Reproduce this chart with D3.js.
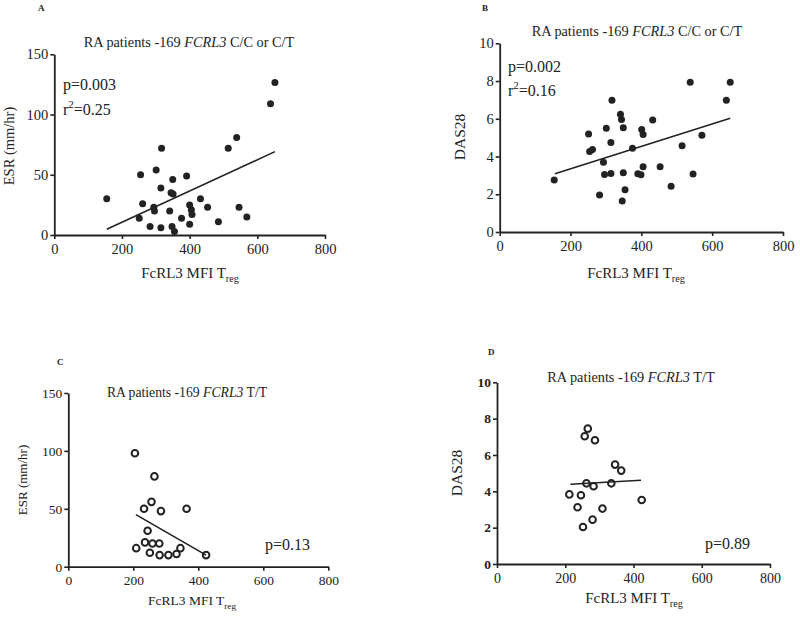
<!DOCTYPE html>
<html><head><meta charset="utf-8">
<script src="https://cdn.jsdelivr.net/npm/d3@7"></script>
<style>body{margin:0;background:#fff}svg{display:block}text{font-family:"Liberation Serif","Times New Roman",serif;fill:#222}</style>
</head><body>
<script>
// Panel A: ESR vs FcRL3 MFI Treg (C/C or C/T)
const aX = [652,639,539,514,317,255,301,350,391,315,345,351,155,261,294,296,341,400,432,405,407,453,546,569,485,251,376,400,283,315,348,355];
const aY = [126.5,109,81,72,72,50,54,46,49,39,35,34,30,26,23,20,20,25,30,21,17,23,23,15,11,14,14,9,7,6,7,3];
const aFit = [[155,4.7],[652,69.2]];
// Panel B: DAS28 vs FcRL3 MFI Treg (C/C or C/T)
const bX = [651,538,640,317,341,344,432,301,349,401,405,251,571,314,515,375,262,254,293,405,453,296,314,349,390,399,546,154,354,484,282,346];
const bY = [7.94,7.94,6.98,6.98,6.24,5.96,5.93,5.5,5.52,5.43,5.17,5.19,5.13,4.74,4.57,4.44,4.37,4.27,3.69,3.46,3.46,3.05,3.1,3.14,3.09,3.03,3.07,2.75,2.24,2.42,1.96,1.64];
const bFit = [[156,3.09],[651,6.03]];
// Panel C: ESR vs FcRL3 MFI Treg (T/T)
const cX = [205,265,256,233,285,364,244,236,259,280,209,251,281,308,333,345,424];
const cY = [98,78,56,50,48,50,31,21,20,20,16,12,10,10,11,16,10];
const cFit = [[208,45],[424,10]];
// Panel D: DAS28 vs FcRL3 MFI Treg (T/T)
const dX = [266,257,287,346,364,262,335,283,212,246,424,236,309,280,252];
const dY = [7.45,7.03,6.81,5.47,5.14,4.44,4.44,4.28,3.83,3.78,3.52,3.12,3.05,2.44,2.04];
const dFit = [[215,4.39],[422,4.61]];

const xTicks = [0,200,400,600,800];
const esrTicks = [0,50,100,150];
const dasTicks = [0,2,4,6,8,10];

const svg = d3.select("body").append("svg").attr("width",800).attr("height",618);

function panel(o){
  const g = svg.append("g");
  const x = d3.scaleLinear().domain([0,800]).range([o.x0,o.x1]);
  const y = d3.scaleLinear().domain(o.yDom).range([o.y0,o.y1]);
  const xa = g.append("g").attr("transform",`translate(0,${o.y0})`)
    .call(d3.axisBottom(x).tickValues(xTicks).tickSize(4).tickPadding(5).tickSizeOuter(0));
  const ya = g.append("g").attr("transform",`translate(${o.x0},0)`)
    .call(d3.axisLeft(y).tickValues(o.yTicks).tickSize(4).tickPadding(2).tickSizeOuter(0));
  [xa,ya].forEach(a=>{
    a.select(".domain").attr("stroke","#222").attr("stroke-width",1.8);
    a.selectAll(".tick line").attr("stroke","#222").attr("stroke-width",1.6);
    a.selectAll(".tick text").attr("font-family","Liberation Serif").attr("font-size",o.tickFs).attr("fill","#222");
  });
  if(o.boldY) ya.selectAll(".tick text").attr("font-weight","bold").attr("font-size",o.tickFs-0.5);
  // fit line
  g.append("line").attr("x1",x(o.fit[0][0])).attr("y1",y(o.fit[0][1]))
    .attr("x2",x(o.fit[1][0])).attr("y2",y(o.fit[1][1]))
    .attr("stroke","#222").attr("stroke-width",1.6);
  // points
  g.selectAll("circle.p").data(o.xs.map((v,i)=>[v,o.ys[i]])).join("circle")
    .attr("cx",d=>x(d[0])).attr("cy",d=>y(d[1]))
    .attr("r",o.open?3.3:3.5)
    .attr("fill",o.open?"none":"#222")
    .attr("stroke","#222").attr("stroke-width",o.open?2:0);
  // panel letter
  g.append("text").attr("x",o.letter[0]).attr("y",o.letter[1]).attr("font-size",9).attr("font-weight","bold").text(o.letter[2]);
  // title
  const t = g.append("text").attr("x",o.title[0]).attr("y",o.title[1]).attr("text-anchor","middle").attr("font-size",o.titleFs);
  t.append("tspan").text("RA patients -169 ");
  t.append("tspan").attr("font-style","italic").text("FCRL3");
  t.append("tspan").text(" "+o.geno);
  // y label
  g.append("text").attr("transform",`translate(${o.ylab[0]},${o.ylab[1]}) rotate(-90)`)
    .attr("text-anchor","middle").attr("font-size",o.ylabFs).text(o.ylabText);
  // x label
  const xl = g.append("text").attr("x",o.xlab[0]).attr("y",o.xlab[1]).attr("text-anchor","middle").attr("font-size",o.labFs);
  xl.append("tspan").text("FcRL3 MFI T");
  xl.append("tspan").attr("dy",4).attr("font-size",o.labFs*0.68).text("reg");
  // stats
  g.append("text").attr("x",o.p[0]).attr("y",o.p[1]).attr("font-size",16).text(o.p[2]);
  if(o.r){
    const r = g.append("text").attr("x",o.r[0]).attr("y",o.r[1]).attr("font-size",16);
    r.append("tspan").text("r");
    r.append("tspan").attr("dy",-7).attr("font-size",11).text("2");
    r.append("tspan").attr("dy",7).text("="+o.r[2]);
  }
}

panel({x0:54.3,x1:325,y0:235,y1:54.3,yDom:[0,150],yTicks:esrTicks,xs:aX,ys:aY,fit:aFit,open:false,
  letter:[38,11,"A"],title:[189,47],geno:"C/C or C/T",titleFs:14.3,ylab:[14,146],ylabFs:14.5,ylabText:"ESR (mm/hr)",
  xlab:[190,278],labFs:15,tickFs:14.5,p:[63,90,"p=0.003"],r:[63,115,"0.25"]});
panel({x0:499.7,x1:783,y0:232,y1:43.3,yDom:[0,10],yTicks:dasTicks,xs:bX,ys:bY,fit:bFit,open:false,
  letter:[482,11,"B"],title:[637,36],geno:"C/C or C/T",titleFs:14.3,ylab:[465,137],ylabFs:15.5,ylabText:"DAS28",
  xlab:[636,278],labFs:15,tickFs:14.5,p:[508,72,"p=0.002"],r:[508,96,"0.16"]});
panel({x0:68.3,x1:328.3,y0:566.7,y1:393,yDom:[0,150],yTicks:esrTicks,xs:cX,ys:cY,fit:cFit,open:true,
  letter:[57,365,"C"],title:[187,397],geno:"T/T",titleFs:13.7,ylab:[27,480],ylabFs:13,ylabText:"ESR (mm/hr)",
  xlab:[192,605],labFs:13.5,tickFs:13.5,p:[265,550,"p=0.13"]});
panel({x0:497,x1:770,y0:564,y1:382.3,yDom:[0,10],yTicks:dasTicks,xs:dX,ys:dY,fit:dFit,open:true,
  letter:[488,355,"D"],title:[631,382],geno:"T/T",titleFs:14.3,ylab:[462,473],ylabFs:15.5,ylabText:"DAS28",
  xlab:[634,603],labFs:15,tickFs:14,boldY:true,p:[705,549,"p=0.89"]});
</script>
</body></html>
